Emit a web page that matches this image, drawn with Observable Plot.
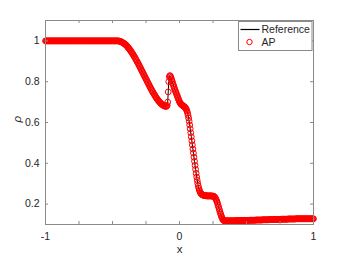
<!DOCTYPE html>
<html><head><meta charset="utf-8">
<script src="https://cdn.jsdelivr.net/npm/d3@7"></script>
<script src="https://cdn.jsdelivr.net/npm/@observablehq/plot@0.6"></script>
<style>body{margin:0;background:#fff} svg{display:block}</style>
</head><body><div id="chart"></div>
<script>
// AP (red circles), read in four stretches
const apXLeft = [
-1,-0.995,-0.99,-0.985,-0.98,-0.975,-0.97,-0.965,-0.96,-0.955,
-0.95,-0.945,-0.94,-0.935,-0.93,-0.925,-0.92,-0.915,-0.91,-0.905,
-0.9,-0.895,-0.89,-0.885,-0.88,-0.875,-0.87,-0.865,-0.86,-0.855,
-0.85,-0.845,-0.84,-0.835,-0.83,-0.825,-0.82,-0.815,-0.81,-0.805,
-0.8,-0.795,-0.79,-0.785,-0.78,-0.775,-0.77,-0.765,-0.76,-0.755,
-0.75,-0.745,-0.74,-0.735,-0.73,-0.725,-0.72,-0.715,-0.71,-0.705,
-0.7,-0.695,-0.69,-0.685,-0.68,-0.675,-0.67,-0.665,-0.66,-0.655,
-0.65,-0.645,-0.64,-0.635,-0.63,-0.625,-0.62,-0.615,-0.61,-0.605,
-0.6,-0.595,-0.59,-0.585,-0.58,-0.575,-0.57,-0.565,-0.56,-0.555,
-0.55,-0.545,-0.54,-0.535,-0.53,-0.525,-0.52,-0.515,-0.51,-0.505,
-0.5,-0.495,-0.49,-0.485,-0.48,-0.475,-0.47];
const apRhoLeft = [
1,1,1,1,1,1,1,1,1,1, 1,1,1,1,1,1,1,1,1,1, 1,1,1,1,1,1,1,1,1,1,
1,1,1,1,1,1,1,1,1,1, 1,1,1,1,1,1,1,1,1,1, 1,1,1,1,1,1,1,1,1,1,
1,1,1,1,1,1,1,1,1,1, 1,1,1,1,1,1,1,1,1,1, 1,1,1,1,1,1,1,1,1,1,
1,1,1,1,1,1,1,1,1,1, 1,1,1,1,1,1,1];
const apXFan = [
-0.465,-0.46,-0.455,-0.45,-0.445,-0.44,-0.435,-0.43,-0.425,-0.42,
-0.415,-0.41,-0.405,-0.4,-0.395,-0.39,-0.385,-0.38,-0.375,-0.37,
-0.365,-0.36,-0.355,-0.35,-0.345,-0.34,-0.335,-0.33,-0.325,-0.32,
-0.315,-0.31,-0.305,-0.3,-0.295,-0.29,-0.285,-0.28,-0.275,-0.27,
-0.265,-0.26,-0.255,-0.25,-0.245,-0.24,-0.235,-0.23,-0.225,-0.22,
-0.215,-0.21,-0.205,-0.2,-0.195,-0.19,-0.185,-0.18,-0.175,-0.17,
-0.165,-0.16,-0.155,-0.15,-0.145,-0.14,-0.135,-0.13,-0.125,-0.12,
-0.115,-0.11,-0.105,-0.1];
const apRhoFan = [
1,1,1,0.999,0.998,0.997,0.996,0.994,0.992,0.99,
0.988,0.985,0.983,0.98,0.977,0.973,0.969,0.965,0.961,0.956,
0.952,0.947,0.942,0.937,0.932,0.926,0.921,0.915,0.909,0.903,
0.897,0.891,0.885,0.878,0.872,0.865,0.859,0.852,0.846,0.839,
0.833,0.826,0.82,0.813,0.807,0.8,0.794,0.787,0.781,0.774,
0.768,0.762,0.756,0.75,0.745,0.739,0.734,0.728,0.723,0.718,
0.714,0.709,0.705,0.701,0.698,0.694,0.691,0.688,0.686,0.683,
0.682,0.68,0.68,0.679];
const apXMid = [
-0.096,-0.092,-0.088,-0.084,-0.08,-0.076,-0.072,-0.068,-0.064,-0.06,
-0.056,-0.052,-0.048,-0.044,-0.04,-0.036,-0.032,-0.028,-0.024,-0.02,
-0.016,-0.012,-0.008,-0.004,0,0.004,0.008,0.012,0.016,0.02,
0.024,0.028,0.032,0.036,0.04,0.044,0.048,0.052,0.056,0.06,
0.064,0.068,0.072,0.076,0.08,0.084,0.088,0.092,0.096,0.1,
0.104,0.108,0.112,0.116,0.12,0.124,0.128,0.132,0.136,0.14,
0.144,0.148,0.152,0.156,0.16,0.164,0.168,0.172,0.176,0.18,
0.184,0.188,0.192,0.196,0.2,0.204,0.208,0.212,0.216,0.22,
0.224,0.228,0.232,0.236,0.24,0.244,0.248,0.252,0.256,0.26,
0.264,0.268,0.272,0.276,0.28,0.284,0.288,0.292,0.296,0.3,
0.304,0.308,0.312,0.316,0.32,0.324,0.328,0.332,0.336,0.34];
const apRhoMid = [
0.68,0.684,0.7,0.75,0.8,0.824,0.83,0.827,0.82,0.812,
0.804,0.796,0.788,0.78,0.772,0.764,0.757,0.75,0.743,0.736,
0.729,0.722,0.715,0.708,0.702,0.697,0.693,0.69,0.687,0.685,
0.683,0.681,0.679,0.677,0.675,0.672,0.668,0.663,0.656,0.647,
0.636,0.622,0.606,0.588,0.569,0.55,0.53,0.51,0.49,0.47,
0.45,0.43,0.41,0.39,0.37,0.351,0.333,0.317,0.302,0.289,
0.278,0.269,0.262,0.256,0.252,0.249,0.247,0.245,0.244,0.243,
0.242,0.242,0.241,0.241,0.241,0.24,0.24,0.24,0.24,0.24,
0.24,0.24,0.24,0.24,0.24,0.239,0.239,0.239,0.238,0.236,
0.233,0.229,0.224,0.218,0.211,0.203,0.194,0.185,0.176,0.167,
0.158,0.15,0.142,0.135,0.129,0.124,0.121,0.119,0.118,0.118];
const apXRight = [
0.345,0.35,0.355,0.36,0.365,0.37,0.375,0.38,0.385,0.39,
0.395,0.4,0.405,0.41,0.415,0.42,0.425,0.43,0.435,0.44,
0.445,0.45,0.455,0.46,0.465,0.47,0.475,0.48,0.485,0.49,
0.495,0.5,0.505,0.51,0.515,0.52,0.525,0.53,0.535,0.54,
0.545,0.55,0.555,0.56,0.565,0.57,0.575,0.58,0.585,0.59,
0.595,0.6,0.605,0.61,0.615,0.62,0.625,0.63,0.635,0.64,
0.645,0.65,0.655,0.66,0.665,0.67,0.675,0.68,0.685,0.69,
0.695,0.7,0.705,0.71,0.715,0.72,0.725,0.73,0.735,0.74,
0.745,0.75,0.755,0.76,0.765,0.77,0.775,0.78,0.785,0.79,
0.795,0.8,0.805,0.81,0.815,0.82,0.825,0.83,0.835,0.84,
0.845,0.85,0.855,0.86,0.865,0.87,0.875,0.88,0.885,0.89,
0.895,0.9,0.905,0.91,0.915,0.92,0.925,0.93,0.935,0.94,
0.945,0.95,0.955,0.96,0.965,0.97,0.975,0.98,0.985,0.99,
0.995,1];
const apRhoRight = [
0.118,0.118,0.118,0.118,0.118,0.118,0.118,0.118,0.118,0.118,
0.118,0.118,0.118,0.118,0.118,0.119,0.119,0.119,0.119,0.119,
0.119,0.119,0.119,0.119,0.119,0.12,0.12,0.12,0.12,0.12,
0.12,0.12,0.12,0.12,0.12,0.121,0.121,0.121,0.121,0.121,
0.121,0.121,0.121,0.121,0.121,0.122,0.122,0.122,0.122,0.122,
0.122,0.122,0.122,0.122,0.122,0.123,0.123,0.123,0.123,0.123,
0.123,0.123,0.123,0.123,0.123,0.124,0.124,0.124,0.124,0.124,
0.124,0.124,0.124,0.125,0.125,0.125,0.125,0.125,0.125,0.125,
0.125,0.125,0.125,0.126,0.126,0.126,0.126,0.126,0.126,0.126,
0.126,0.126,0.126,0.127,0.127,0.127,0.127,0.127,0.127,0.127,
0.127,0.127,0.127,0.127,0.127,0.128,0.128,0.128,0.128,0.128,
0.128,0.128,0.128,0.128,0.128,0.128,0.128,0.128,0.128,0.128,
0.128,0.128,0.128,0.128,0.128,0.128,0.128,0.128,0.128,0.128,
0.128,0.128];

// Reference (black line)
const refX = [-1,-0.46,-0.44,-0.42,-0.4,-0.38,-0.36,-0.34,-0.32,-0.3,-0.28,-0.26,-0.24,-0.22,-0.2,-0.18,-0.16,-0.14,-0.12,-0.1,-0.092,-0.088,-0.084,-0.08,-0.076,-0.072,-0.064,-0.056,-0.048,-0.04,-0.032,-0.024,-0.016,-0.008,0,0.008,0.016,0.024,0.032,0.04,0.048,0.056,0.064,0.072,0.08,0.088,0.096,0.104,0.112,0.12,0.128,0.136,0.144,0.152,0.16,0.168,0.176,0.184,0.2,0.22,0.24,0.256,0.264,0.272,0.28,0.288,0.296,0.304,0.312,0.32,0.328,0.336,0.35,0.5,0.7,0.9,1];
const refRho = [1,1,0.997,0.99,0.98,0.965,0.947,0.926,0.903,0.878,0.852,0.826,0.8,0.774,0.75,0.728,0.709,0.694,0.683,0.679,0.684,0.7,0.75,0.8,0.824,0.83,0.82,0.804,0.788,0.772,0.757,0.743,0.729,0.715,0.702,0.693,0.687,0.683,0.679,0.675,0.668,0.656,0.636,0.606,0.569,0.53,0.49,0.45,0.41,0.37,0.333,0.302,0.278,0.262,0.252,0.247,0.244,0.242,0.241,0.24,0.24,0.238,0.233,0.224,0.211,0.194,0.176,0.158,0.142,0.129,0.121,0.118,0.118,0.12,0.124,0.128,0.128];

const xLabelTicks = [-1, 0, 1];
const xTickMarks = [-1, -0.75, -0.5, -0.25, 0, 0.25, 0.5, 0.75, 1];
const yTicks = [0.2, 0.4, 0.6, 0.8, 1];
const seriesNames = ["Reference", "AP"];
const xLabel = "x", yLabel = "ρ";

const W = 346, H = 260, mL = 45, mR = 33, mT = 20, mB = 36;
const innerW = W - mL - mR, innerH = H - mT - mB;
const apX = [...apXLeft, ...apXFan, ...apXMid, ...apXRight];
const apRho = [...apRhoLeft, ...apRhoFan, ...apRhoMid, ...apRhoRight];
const ap = apX.map((x, i) => ({x, rho: apRho[i]}));
const ref = refX.map((x, i) => ({x, rho: refRho[i]}));
const axisColor = "#8a8a8a", textColor = "#262626";
const font = "'Liberation Sans', Arial, Helvetica, sans-serif";

const plot = Plot.plot({
  width: W, height: H,
  marginLeft: mL, marginRight: mR, marginTop: mT, marginBottom: mB,
  style: {fontFamily: font, fontSize: "10.5px", color: textColor, background: "#fff"},
  x: {domain: [-1, 1]},
  y: {domain: [0.1, 1.1]},
  marks: [
    Plot.line(ref, {x: "x", y: "rho", stroke: "#000", strokeWidth: 1}),
    Plot.dot(ap, {x: "x", y: "rho", r: 2.9, stroke: "#ff0000", fill: "none", strokeWidth: 1}),
    Plot.frame({stroke: axisColor}),
    Plot.tickX(xTickMarks, {x: d => d, stroke: axisColor, insetTop: innerH - 3}),
    Plot.tickX(xTickMarks, {x: d => d, stroke: axisColor, insetBottom: innerH - 3}),
    Plot.tickY(yTicks, {y: d => d, stroke: axisColor, insetRight: innerW - 3}),
    Plot.tickY(yTicks, {y: d => d, stroke: axisColor, insetLeft: innerW - 3}),
    Plot.axisX({ticks: xLabelTicks, tickSize: 0, tickPadding: 8, tickFormat: d => String(d), label: null}),
    Plot.axisY({ticks: yTicks, tickSize: 0, tickPadding: 6, tickFormat: d => String(d), label: null}),
    Plot.text([xLabel], {text: d => d, frameAnchor: "bottom", dy: 28, fontSize: 11.5, fill: textColor}),
    Plot.text([yLabel], {text: d => d, frameAnchor: "left", dx: -28, rotate: -90, fontSize: 11.5, fontStyle: "italic", fill: textColor})
  ]
});

// Legend box inside the axes (top-right)
const svg = d3.select(plot);
const lg = svg.append("g").attr("font-family", font).attr("font-size", 10.5)
  .attr("fill", textColor).attr("text-anchor", "start");
lg.append("rect").attr("x", 238.5).attr("y", 21.5).attr("width", 73.5).attr("height", 29)
  .attr("fill", "#fff").attr("stroke", axisColor);
lg.append("line").attr("x1", 240.5).attr("x2", 259.5).attr("y1", 29.5).attr("y2", 29.5)
  .attr("stroke", "#000").attr("stroke-width", 1.2);
lg.append("text").attr("x", 261.5).attr("y", 29.5).attr("dy", "0.35em").text(seriesNames[0]);
lg.append("circle").attr("cx", 249.5).attr("cy", 42).attr("r", 2.7)
  .attr("fill", "none").attr("stroke", "#ff0000");
lg.append("text").attr("x", 261.5).attr("y", 42).attr("dy", "0.35em").text(seriesNames[1]);

document.getElementById("chart").appendChild(plot);
</script>
</body></html>
